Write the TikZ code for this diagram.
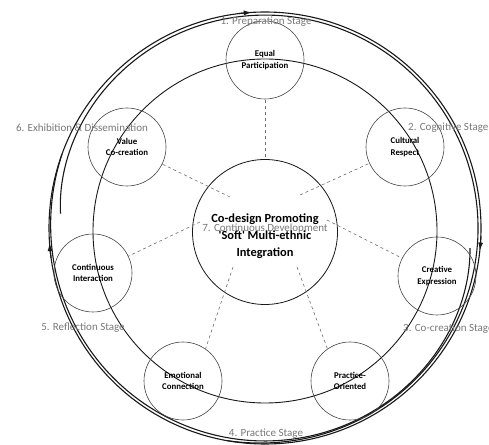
\documentclass[tikz,border=0pt]{standalone}
\usepackage{fontspec}
\setmainfont{Carlito}
\usetikzlibrary{arrows.meta}
\definecolor{stagegray}{RGB}{120,120,120}
\definecolor{ringline}{RGB}{25,25,25}
\definecolor{nodeline}{RGB}{70,70,70}
\definecolor{dashgray}{RGB}{110,110,110}

\begin{document}
\begin{tikzpicture}[x=1pt,y=1pt,
  ring/.style={draw=ringline, line width=1.1pt},
  midring/.style={draw=ringline, line width=0.9pt},
  stagecircle/.style={circle, draw=nodeline, line width=0.6pt, minimum size=78pt,
    inner sep=0pt, align=center, font=\fontsize{8.8}{11.5}\selectfont\bfseries},
  hubcircle/.style={circle, draw=ringline, line width=0.8pt, minimum size=145pt, inner sep=0pt},
  spoke/.style={draw=dashgray, line width=0.6pt, dash pattern=on 3pt off 3pt},
  stagelabel/.style={text=stagegray, font=\fontsize{11}{13}\selectfont, inner sep=0pt},
  flowtip/.style={ring, -{Latex[length=8pt,width=5pt]}}
]
\useasboundingbox (0,0) rectangle (489,444);

% rings of the cycle
\coordinate (o) at (265,216);
\draw[ring] (o) circle (216);
\draw[ring, shift={(265,216)}] plot[domain=176:-100, samples=160]
  (\x:{213-8*exp(-(176-\x)/18)+3*exp(-(\x+100)/25)});
\draw[ring, shift={(265,216)}] plot[domain=-5.6:-200, samples=140]
  (\x:{213-7*exp(-(-5.6-\x)/18)+3*exp(-(\x+200)/25)});
\draw[flowtip] (o) ++(97:216) arc[start angle=97, end angle=93.5, radius=216];
\draw[flowtip] (o) ++(-2:216) arc[start angle=-2, end angle=-6, radius=216];
\draw[flowtip] (o) ++(188:216) arc[start angle=188, end angle=184, radius=216];

% middle ring
\draw[midring] (265,213) circle (172);

% hub
\node[hubcircle] (hub) at (265,212) {};

% stage circles
\node[stagecircle] (equal)      at (265,384) {Equal\\Participation};
\node[stagecircle] (cultural)   at (405,297) {Cultural\\Respect};
\node[stagecircle] (creative)   at (437,168) {Creative\\Expression};
\node[stagecircle] (practice)   at (350,63)  {Practice-\\Oriented};
\node[stagecircle] (emotional)  at (183,63)  {Emotional\\Connection};
\node[stagecircle] (continuous) at (93,171)  {Continuous\\Interaction};
\node[stagecircle] (value)      at (127,297) {Value\\Co-creation};

% spokes
\coordinate (d1) at (265,287);
\coordinate (d2) at (300,249);
\coordinate (d3) at (327,224);
\coordinate (d4) at (297,177);
\coordinate (d5) at (233,177);
\coordinate (d6) at (200,222);
\coordinate (d7) at (230,247);
\draw[spoke] (d1) -- (equal);
\draw[spoke] (d2) -- (cultural);
\draw[spoke] (d3) -- (creative);
\draw[spoke] (d4) -- (practice.125);
\draw[spoke] (d5) -- (emotional.55);
\draw[spoke] (d6) -- (continuous);
\draw[spoke] (d7) -- (value);

% stage labels
\node[stagelabel] (s1) at (266,422) {1. Preparation Stage};
\node[stagelabel, anchor=west] (s2) at (408,316) {2. Cognitive Stage};
\node[stagelabel, anchor=west] (s3) at (403,115) {3. Co-creation Stage};
\node[stagelabel] (s4) at (266,10) {4. Practice Stage};
\node[stagelabel] (s5) at (83,116) {5. Reflection Stage};
\node[stagelabel] (s6) at (82,316) {6. Exhibition \& Dissemination};
\node[stagelabel] (s7) at (265,215) {7. Continuous Development};

% hub title
\node[font=\fontsize{12.4}{17}\selectfont\bfseries, align=center, inner sep=0pt] (hubtext) at (265,208)
  {Co-design Promoting\\\textquotesingle Soft\textquotesingle{} Multi-ethnic\\Integration};
\end{tikzpicture}
\end{document}
